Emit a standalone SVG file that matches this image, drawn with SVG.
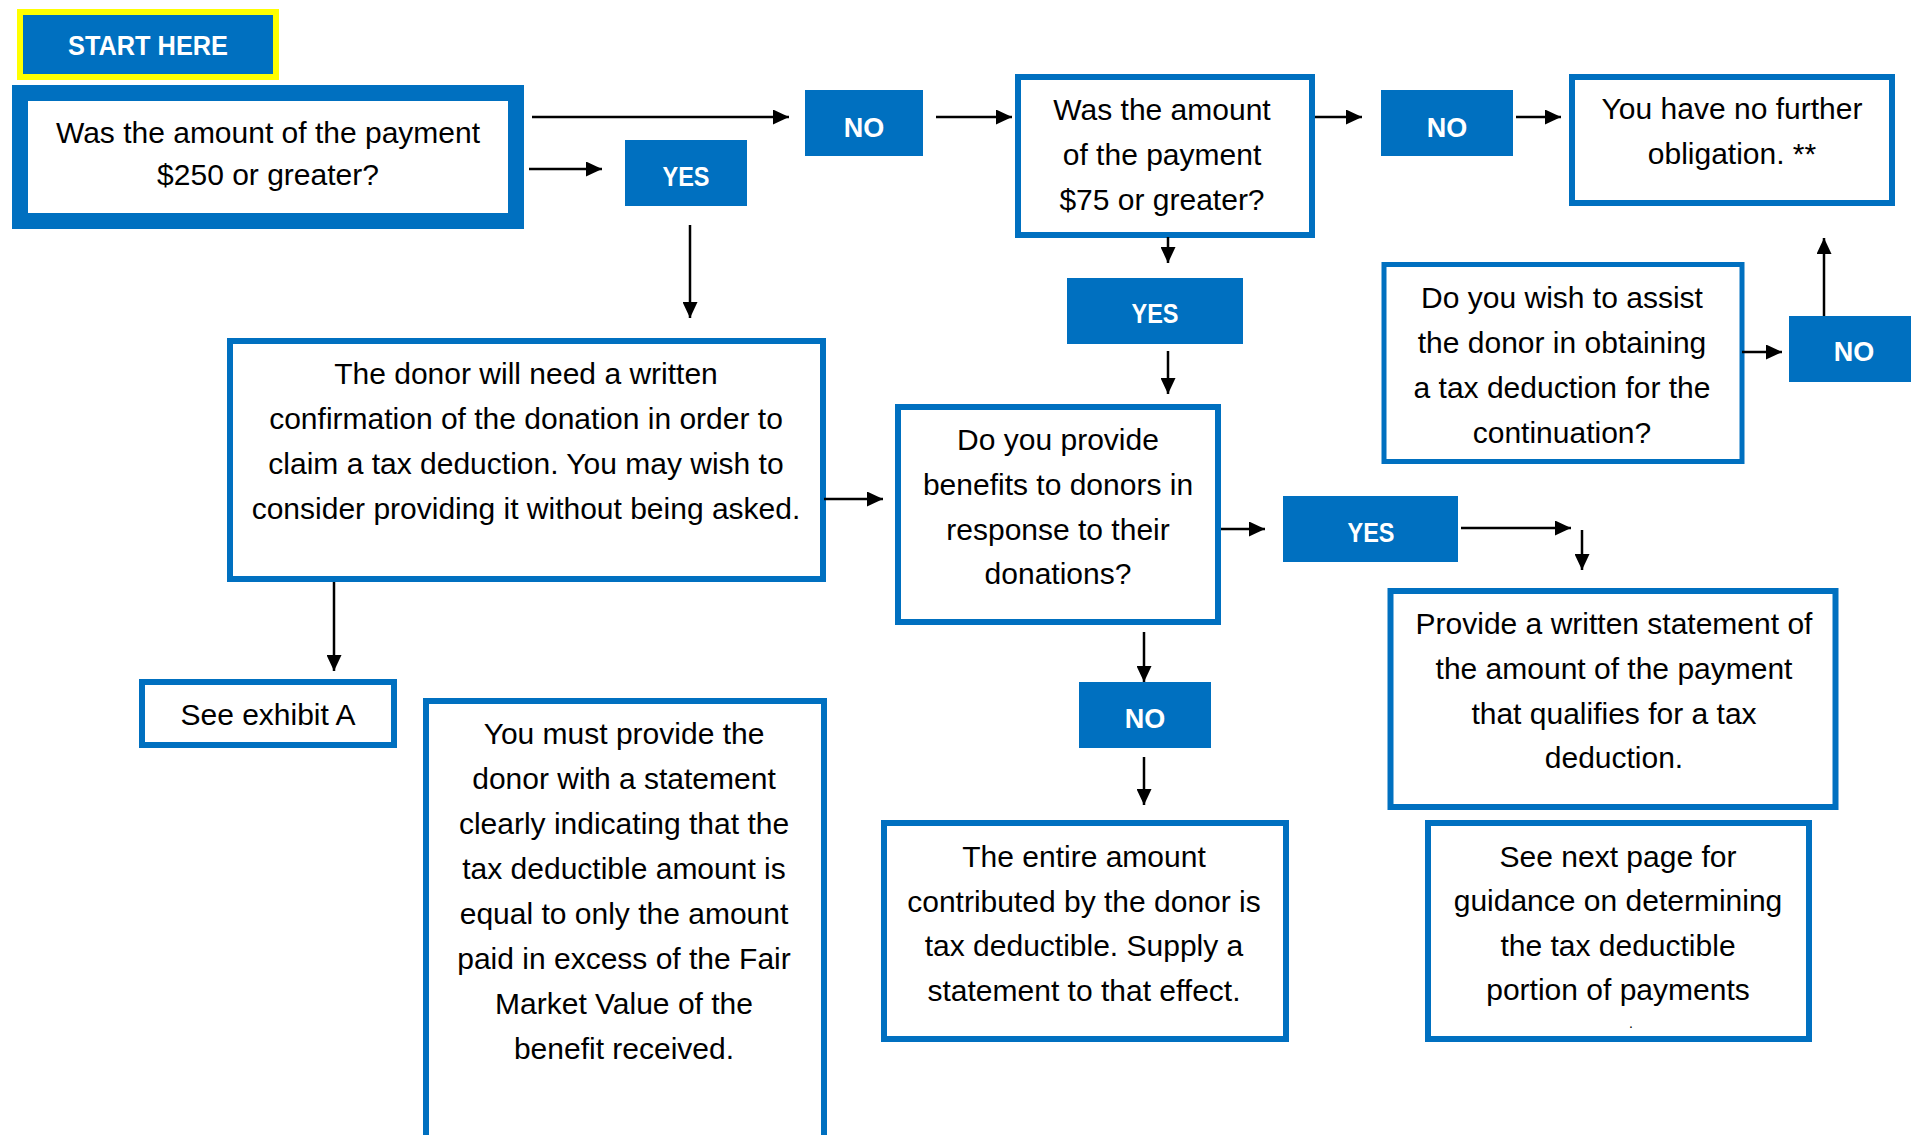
<svg xmlns="http://www.w3.org/2000/svg" width="1911" height="1135" viewBox="0 0 1911 1135">
<style>
.box{fill:#fff;stroke:#0070C0;stroke-width:6}
.lblbox{fill:#0070C0;stroke:none}
.t{font-family:"Liberation Sans",Arial,sans-serif;font-size:30px;fill:#000;text-anchor:middle}
.lbl{font-family:"Liberation Sans",Arial,sans-serif;font-weight:bold;font-size:27px;fill:#fff;text-anchor:middle}
.c{stroke:#000;stroke-width:2.5;fill:none;marker-end:url(#ah)}
</style>
<defs>
<marker id="ah" markerUnits="userSpaceOnUse" markerWidth="16" markerHeight="15" refX="16" refY="7.5" orient="auto">
<path d="M0,0 L16,7.5 L0,15 Z" fill="#000"/>
</marker>
</defs>
<rect width="1911" height="1135" fill="#fff"/>

<g id="start">
<rect x="20" y="12" width="256" height="65" fill="#0070C0" stroke="#FFFF00" stroke-width="6"/>
<text class="lbl" x="148" y="55" textLength="160" lengthAdjust="spacingAndGlyphs">START HERE</text>
</g>

<g id="q1">
<rect x="20" y="93" width="496" height="128" fill="#fff" stroke="#0070C0" stroke-width="16"/>
<text class="t" x="268" y="143">Was the amount of the payment</text>
<text class="t" x="268" y="185">$250 or greater?</text>
</g>

<g id="no1">
<rect class="lblbox" x="805" y="90" width="118" height="66"/>
<text class="lbl" x="864" y="137">NO</text>
</g>

<g id="yes1">
<rect class="lblbox" x="625" y="140" width="122" height="66"/>
<text class="lbl" x="686" y="186" textLength="47" lengthAdjust="spacingAndGlyphs">YES</text>
</g>

<g id="q2">
<rect class="box" x="1018" y="77" width="294" height="158"/>
<text class="t" x="1162" y="120">Was the amount</text>
<text class="t" x="1162" y="165">of the payment</text>
<text class="t" x="1162" y="210">$75 or greater?</text>
</g>

<g id="no2">
<rect class="lblbox" x="1381" y="90" width="132" height="66"/>
<text class="lbl" x="1447" y="137">NO</text>
</g>

<g id="final">
<rect class="box" x="1572" y="77" width="320" height="126"/>
<text class="t" x="1732" y="119">You have no further</text>
<text class="t" x="1732" y="164">obligation. **</text>
</g>

<g id="yes2">
<rect class="lblbox" x="1067" y="278" width="176" height="66"/>
<text class="lbl" x="1155" y="323" textLength="47" lengthAdjust="spacingAndGlyphs">YES</text>
</g>

<g id="q4">
<rect class="box" x="1384" y="264.5" width="358" height="197" style="stroke-width:5"/>
<text class="t" x="1562" y="308">Do you wish to assist</text>
<text class="t" x="1562" y="353">the donor in obtaining</text>
<text class="t" x="1562" y="398">a tax deduction for the</text>
<text class="t" x="1562" y="443">continuation?</text>
</g>

<g id="no3">
<rect class="lblbox" x="1789" y="316" width="131" height="66"/>
<text class="lbl" x="1854" y="361">NO</text>
</g>

<g id="q3">
<rect class="box" x="230" y="341" width="593" height="238"/>
<text class="t" x="526" y="384">The donor will need a written</text>
<text class="t" x="526" y="429">confirmation of the donation in order to</text>
<text class="t" x="526" y="474">claim a tax deduction. You may wish to</text>
<text class="t" x="526" y="519">consider providing it without being asked.</text>
</g>

<g id="q5">
<rect class="box" x="898" y="407" width="320" height="215"/>
<text class="t" x="1058" y="450">Do you provide</text>
<text class="t" x="1058" y="495">benefits to donors in</text>
<text class="t" x="1058" y="540">response to their</text>
<text class="t" x="1058" y="584">donations?</text>
</g>

<g id="yes3">
<rect class="lblbox" x="1283" y="496" width="175" height="66"/>
<text class="lbl" x="1371" y="542" textLength="47" lengthAdjust="spacingAndGlyphs">YES</text>
</g>

<g id="q6">
<rect class="box" x="1390.5" y="591" width="445" height="216"/>
<text class="t" x="1614" y="634">Provide a written statement of</text>
<text class="t" x="1614" y="679">the amount of the payment</text>
<text class="t" x="1614" y="724">that qualifies for a tax</text>
<text class="t" x="1614" y="768">deduction.</text>
</g>

<g id="exhibit">
<rect class="box" x="142" y="682" width="252" height="63"/>
<text class="t" x="268" y="725">See exhibit A</text>
</g>

<g id="must">
<rect class="box" x="426" y="701" width="398" height="500"/>
<text class="t" x="624" y="744">You must provide the</text>
<text class="t" x="624" y="789">donor with a statement</text>
<text class="t" x="624" y="834">clearly indicating that the</text>
<text class="t" x="624" y="879">tax deductible amount is</text>
<text class="t" x="624" y="924">equal to only the amount</text>
<text class="t" x="624" y="969">paid in excess of the Fair</text>
<text class="t" x="624" y="1014">Market Value of the</text>
<text class="t" x="624" y="1059">benefit received.</text>
</g>

<g id="no4">
<rect class="lblbox" x="1079" y="682" width="132" height="66"/>
<text class="lbl" x="1145" y="728">NO</text>
</g>

<g id="q8">
<rect class="box" x="884" y="823" width="402" height="216"/>
<text class="t" x="1084" y="867">The entire amount</text>
<text class="t" x="1084" y="912">contributed by the donor is</text>
<text class="t" x="1084" y="956">tax deductible. Supply a</text>
<text class="t" x="1084" y="1001">statement to that effect.</text>
</g>

<g id="q7">
<rect class="box" x="1428" y="823" width="381" height="216"/>
<text class="t" x="1618" y="867">See next page for</text>
<text class="t" x="1618" y="911">guidance on determining</text>
<text class="t" x="1618" y="956">the tax deductible</text>
<text class="t" x="1618" y="1000">portion of payments</text>
<text class="t" x="1631" y="1028" style="font-size:14px">.</text>
</g>

<g id="connectors">
<line class="c" x1="532" y1="117" x2="789" y2="117"/>
<line class="c" x1="529" y1="169" x2="602" y2="169"/>
<line class="c" x1="936" y1="117" x2="1012" y2="117"/>
<line class="c" x1="690" y1="225" x2="690" y2="318"/>
<line class="c" x1="1315" y1="117" x2="1362" y2="117"/>
<line class="c" x1="1516" y1="117" x2="1561" y2="117"/>
<line class="c" x1="1168" y1="237" x2="1168" y2="263"/>
<line class="c" x1="1168" y1="351" x2="1168" y2="394"/>
<line class="c" x1="824" y1="499" x2="883" y2="499"/>
<line class="c" x1="334" y1="582" x2="334" y2="671"/>
<line class="c" x1="1221" y1="529" x2="1265" y2="529"/>
<line class="c" x1="1461" y1="528" x2="1571" y2="528"/>
<line class="c" x1="1582" y1="530" x2="1582" y2="570"/>
<line class="c" x1="1144" y1="632" x2="1144" y2="682"/>
<line class="c" x1="1144" y1="757" x2="1144" y2="805"/>
<line class="c" x1="1742" y1="352" x2="1782" y2="352"/>
<line class="c" x1="1824" y1="316" x2="1824" y2="238"/>
</g>
</svg>
